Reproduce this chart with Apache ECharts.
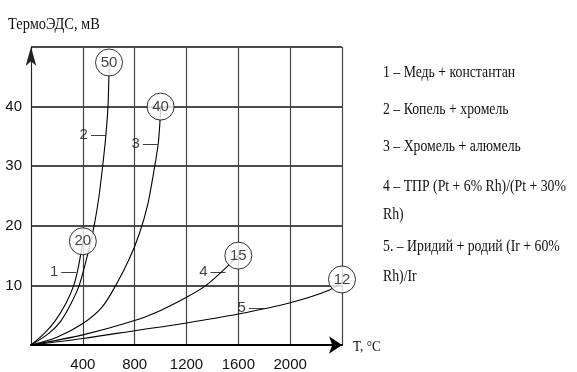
<!DOCTYPE html>
<html><head><meta charset="utf-8">
<script src="https://cdn.jsdelivr.net/npm/echarts@6/dist/echarts.min.js"></script>
<style>html,body{margin:0;padding:0;background:#fff}#c{width:577px;height:372px}</style>
</head><body><div id="c"></div>
<script>
const xTicks = [400, 800, 1200, 1600, 2000];
const yTicks = [10, 20, 30, 40];
const curve1 = [[0,0],[105,2],[185,4],[270,7],[330,10],[360,12.5],[382,15],[400,17.4]];
const curve2 = [[0,0],[140,2],[230,4],[310,7],[372,10],[435,15],[487,20],[525,25],[553,30],[577,35],[594,40],[601,45],[602,47.4]];
const curve3 = [[0,0],[200,1.3],[400,3.6],[550,6.4],[654,10],[760,14.5],[838,18.8],[900,23.5],[954,29.9],[982,33.8],[995,37.4],[1000,40]];
const curve4 = [[0,0],[400,1.7],[800,4.1],[1000,5.8],[1200,8.0],[1351,10],[1516,13.2],[1600,15]];
const curve5 = [[0,0],[400,1.1],[800,2.4],[1200,3.7],[1600,5.2],[2000,7.1],[2300,9.2],[2400,10.6]];
const circles = [[400,17.4,'20'],[602,47.4,'50'],[1000,40,'40'],[1600,15,'15'],[2400,11,'12']];
const curveLabels = [[354,12.2,'1'],[582,35.2,'2'],[982,33.8,'3'],[1505,12.3,'4'],[1800,6.3,'5']];
const legendLines = ['1 – Медь + константан','2 – Копель + хромель','3 – Хромель + алюмель','4 – ТПР (Pt + 6% Rh)/(Pt + 30%','Rh)','5. – Иридий + родий (Ir + 60%','Rh)/Ir'];
const yTitle = 'ТермоЭДС, мВ';
const xTitle = 'T, °C';

const SANS = '"Liberation Sans",Arial,sans-serif';
const SERIF = '"Liberation Serif","Times New Roman",serif';
const legendYs = [73,110,147,187,215,247,277];

const chart = echarts.init(document.getElementById('c'));
const lineSeries = [curve1, curve2, curve3, curve4, curve5].map(d => ({
  type: 'line', data: d, showSymbol: false, smooth: 0.3,
  lineStyle: {color: '#000', width: 1.1}, z: 3, silent: true
}));
chart.setOption({
  animation: false,
  grid: {left: 31, right: 235, top: 47, bottom: 26, containLabel: false},
  xAxis: {
    type: 'value', min: 0, max: 2400, interval: 400,
    axisLine: {show: true, lineStyle: {color: '#000', width: 2}, symbol: ['none','arrow'], symbolSize: [13, 13], symbolOffset: [0, 0]},
    axisTick: {show: false},
    axisLabel: {margin: 12, color: '#111', fontFamily: SANS, fontSize: 15,
      formatter: v => xTicks.includes(v) ? String(v) : ''},
    splitLine: {show: true, lineStyle: {color: '#444', width: 1.2}}
  },
  yAxis: {
    type: 'value', min: 0, max: 50, interval: 10,
    axisLine: {show: true, lineStyle: {color: '#222', width: 1}, symbol: ['none','arrow'], symbolSize: [8, 19], symbolOffset: [0, 0]},
    axisTick: {show: false},
    axisLabel: {margin: 9, color: '#111', fontFamily: SANS, fontSize: 15,
      formatter: v => yTicks.includes(v) ? String(v) : ''},
    splitLine: {show: true, lineStyle: {color: '#111', width: 1.6}}
  },
  series: lineSeries.concat([
    {type: 'scatter', data: circles, symbol: 'circle', symbolSize: 27, z: 5, silent: true,
     itemStyle: {color: '#fff', borderColor: '#000', borderWidth: 1},
     label: {show: true, position: 'inside', formatter: p => p.data[2], color: '#111', fontFamily: SANS, fontSize: 15}},
    {type: 'scatter', data: curveLabels, symbol: 'circle', symbolSize: 1, z: 6, silent: true,
     itemStyle: {color: 'rgba(0,0,0,0)'},
     label: {show: true, position: 'left', distance: 0, formatter: p => p.data[2] + '\u2009—', color: '#111', fontFamily: SANS, fontSize: 15}}
  ]),
  graphic: [
    {type: 'text', x: 8, y: 25, scaleX: 0.85, style: {text: yTitle, font: '17px ' + SERIF, fill: '#111', verticalAlign: 'middle'}},
    {type: 'text', x: 353, y: 347, scaleX: 0.88, style: {text: xTitle, font: '15px ' + SERIF, fill: '#111', verticalAlign: 'middle'}}
  ].concat(legendLines.map((t, i) => ({
    type: 'text', x: 383, y: legendYs[i], scaleX: 0.86,
    style: {text: t, font: '16px ' + SERIF, fill: '#111', verticalAlign: 'middle'}
  })))
});
</script></body></html>
